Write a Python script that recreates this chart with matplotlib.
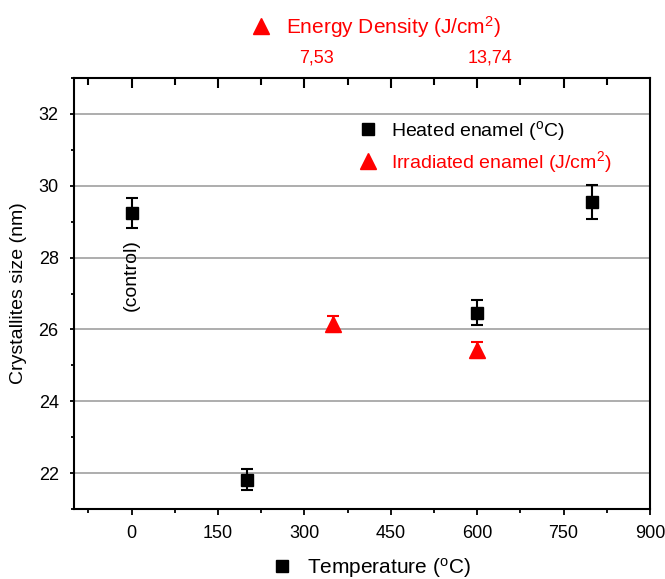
import numpy as np
import matplotlib
matplotlib.use("Agg")
import matplotlib.pyplot as plt
from matplotlib.lines import Line2D
from matplotlib.ticker import MultipleLocator

plt.rcParams['font.family'] = ['Liberation Sans', 'DejaVu Sans']
plt.rcParams['mathtext.fontset'] = 'custom'
plt.rcParams['mathtext.rm'] = 'Liberation Sans'
plt.rcParams['mathtext.default'] = 'regular'

# heated enamel (temperature, deg C)
heat_temp = [0, 200, 600, 800]
heat_size = [29.25, 21.82, 26.47, 29.54]
heat_err = [0.42, 0.30, 0.35, 0.47]

# irradiated enamel, drawn on the temperature scale
irr_pos = [350, 600]
irr_size = [26.16, 25.42]
irr_err = [0.22, 0.22]

top_ticks = [300, 600]
top_labels = ['7,53', '13,74']

fig = plt.figure(figsize=(6.65, 5.79), dpi=100)
ax = fig.add_axes([74/665, 1-509/579, 576/665, 431/579])

ax.errorbar(heat_temp, heat_size, yerr=heat_err, fmt='s', color='black',
            ms=9, capsize=4, elinewidth=1.5, capthick=1.5, zorder=3)
ax.errorbar(irr_pos, irr_size, yerr=irr_err, fmt='^', color='red',
            ms=11, capsize=4, elinewidth=1.5, capthick=1.5, zorder=3)

ax.set_xlim(-100, 900)
ax.set_ylim(21, 33)
ax.xaxis.set_major_locator(MultipleLocator(150))
ax.xaxis.set_minor_locator(MultipleLocator(75))
ax.yaxis.set_major_locator(MultipleLocator(2))
ax.yaxis.set_minor_locator(MultipleLocator(1))
ax.grid(axis='y', which='major', color='#a0a0a0', lw=1.2)
ax.set_axisbelow(True)

ax.tick_params(axis='x', which='major', direction='out', length=4.5, width=1.3,
               labelsize=13, pad=7)
ax.tick_params(axis='x', which='minor', direction='out', length=3, width=1.3)
ax.tick_params(axis='y', which='major', direction='out', length=3, width=1.3,
               labelsize=13, pad=8)
ax.tick_params(axis='y', which='minor', direction='out', length=2, width=1.3)
for sp in ax.spines.values():
    sp.set_linewidth(1.5)

# top axis: inward ticks along the top spine, same spacing as the bottom
xt = ax.get_xaxis_transform()
major_top = [v for v in ax.xaxis.get_majorticklocs() if -100 < v < 900]
minor_top = [v for v in ax.xaxis.get_minorticklocs() if -100 < v < 900 and v not in major_top]
ax.plot(major_top, [1] * len(major_top), transform=xt, ls='none', marker=3,
        ms=7, mew=1.5, color='black', clip_on=False, zorder=5)
ax.plot(minor_top, [1] * len(minor_top), transform=xt, ls='none', marker=3,
        ms=5, mew=1.5, color='black', clip_on=False, zorder=5)

for x, lab in zip(top_ticks, top_labels):
    ax.annotate(lab, xy=(x, 1), xycoords=('data', 'axes fraction'),
                xytext=(9, 8), textcoords='offset points', ha='center',
                va='bottom', color='red', fontsize=13)

ax.set_ylabel('Crystallites size (nm)', fontsize=14, labelpad=8)
ax.text(0, 27.5, '(control)', rotation=90, ha='center', va='center', fontsize=14)

sq = Line2D([], [], marker='s', color='black', ls='none', ms=9)
tri = Line2D([], [], marker='^', color='red', ls='none', ms=11)

leg = ax.legend([sq, tri], ['Heated enamel ($^{o}$C)', 'Irradiated enamel (J/cm$^{2}$)'],
                loc='upper left', bbox_to_anchor=(0.46, 0.945), frameon=False,
                fontsize=14, labelcolor=['black', 'red'], handletextpad=0.6,
                labelspacing=0.3, handlelength=1.2)

fig.legend([tri], ['Energy Density (J/cm$^{2}$)'], loc='center',
           bbox_to_anchor=(375/665, 1-27/579), frameon=False, fontsize=15,
           labelcolor='red', handletextpad=0.6, handlelength=1.2)
fig.legend([sq], ['Temperature ($^{o}$C)'], loc='center',
           bbox_to_anchor=(370/665, 1-568/579), frameon=False, fontsize=15,
           handletextpad=0.6, handlelength=1.2)

fig.savefig('out.png', dpi=100)
